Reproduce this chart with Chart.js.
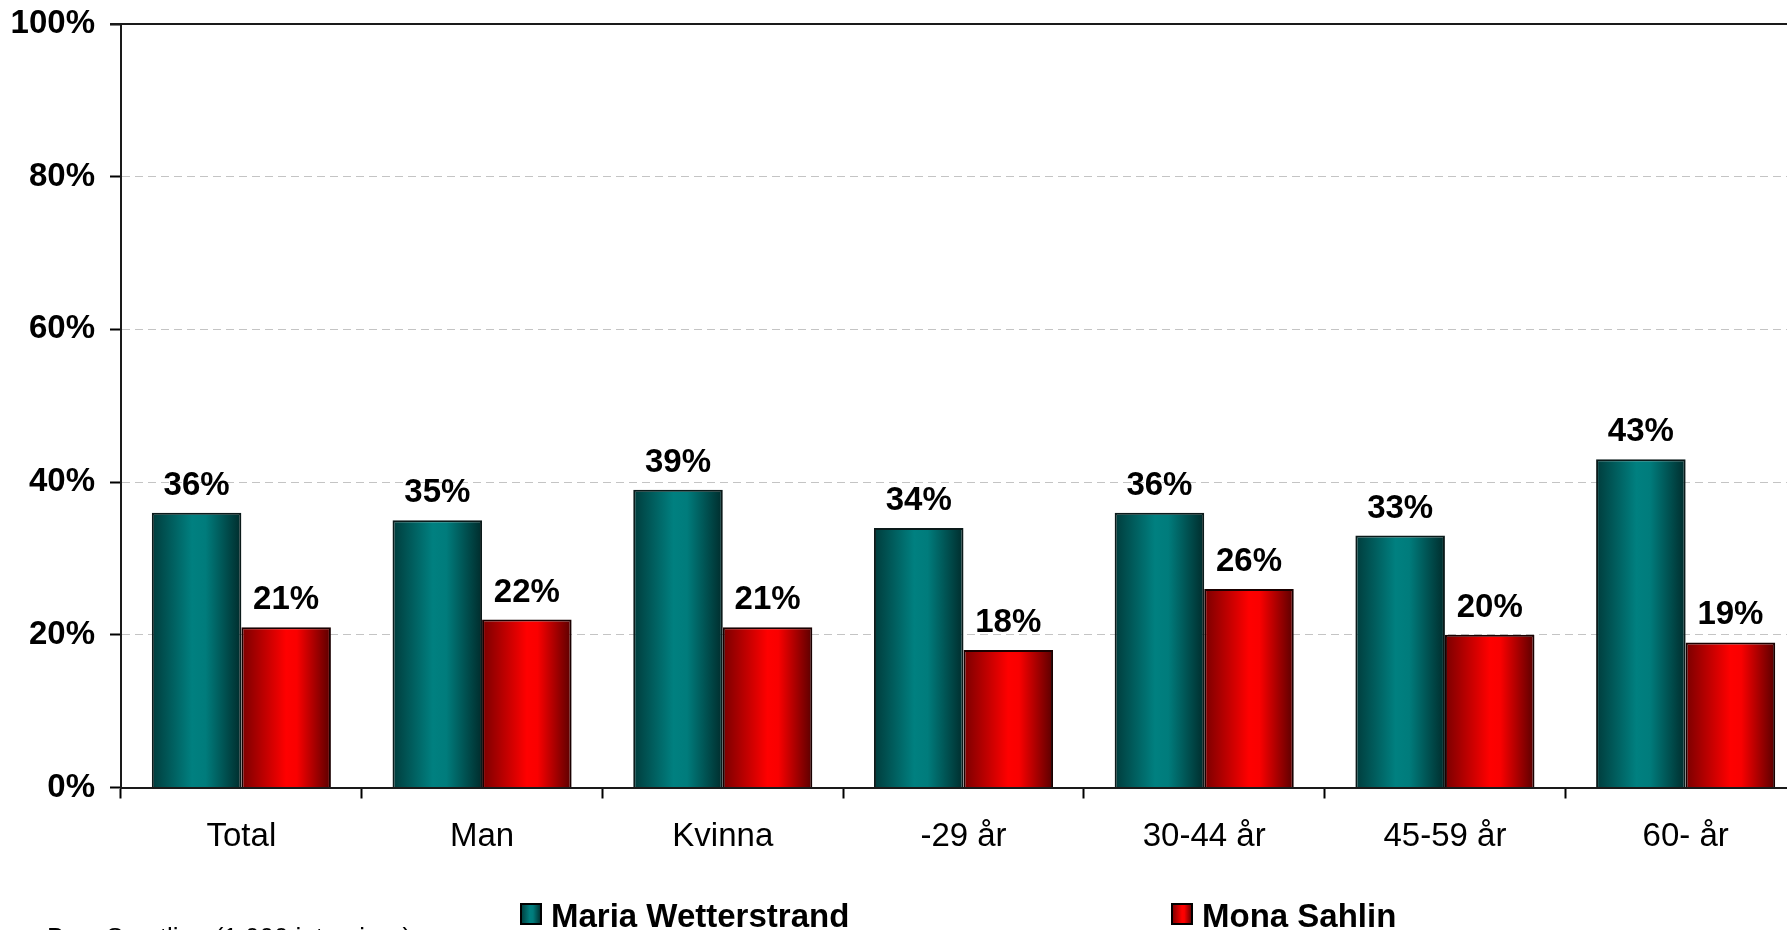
<!DOCTYPE html>
<html>
<head>
<meta charset="utf-8">
<script src="https://cdn.jsdelivr.net/npm/chart.js@4.4.1/dist/chart.umd.min.js"></script>
<style>
  html, body { margin: 0; padding: 0; background: #fff; overflow: hidden; }
  #wrap { width: 1787px; height: 930px; overflow: hidden; position: relative; }
  canvas { display: block; }
</style>
</head>
<body>
<div id="wrap"><canvas id="c" width="1810" height="930" style="width:1810px;height:930px"></canvas></div>
<script>
const categories = ["Total", "Man", "Kvinna", "-29 år", "30-44 år", "45-59 år", "60- år"];
const seriesNames = ["Maria Wetterstrand", "Mona Sahlin"];
const mariaValues = [36, 35, 39, 34, 36, 33, 43];
const monaValues = [21, 22, 21, 18, 26, 20, 19];
const yTicks = [0, 20, 40, 60, 80, 100];
const footnote = "Bas: Samtliga (1 000 intervjuer)";

const CAT_PCT = 0.744;
const FONT = "'Liberation Sans', Arial, sans-serif";
const gradStops = [
  [[0, "#003c3c"], [0.45, "#008080"], [0.6, "#007c7c"], [1, "#002c2c"]],
  [[0, "#7a0000"], [0.5, "#ff0000"], [0.62, "#fa0000"], [1, "#5a0000"]]
];

function makeGrad(ctx2d, left, width, stops) {
  const g = ctx2d.createLinearGradient(left, 0, left + width, 0);
  stops.forEach(s => g.addColorStop(s[0], s[1]));
  return g;
}

function barFill(context) {
  const chart = context.chart;
  const ds = context.datasetIndex;
  const area = chart.chartArea;
  const xs = chart.scales.x;
  if (!area || !xs || context.dataIndex === undefined) return gradStops[ds][1][1];
  const cx = xs.getPixelForValue(context.dataIndex);
  const catW = area.width / categories.length;
  const bw = catW * CAT_PCT / 2;
  const left = ds === 0 ? cx - bw : cx;
  return makeGrad(chart.ctx, left, bw, gradStops[ds]);
}

const valueLabels = {
  id: "valueLabels",
  afterDatasetsDraw(chart) {
    const ctx = chart.ctx;
    ctx.save();
    ctx.font = "bold 33px " + FONT;
    ctx.fillStyle = "#000";
    ctx.textAlign = "center";
    ctx.textBaseline = "alphabetic";
    chart.data.datasets.forEach((d, i) => {
      chart.getDatasetMeta(i).data.forEach((bar, j) => {
        ctx.fillText(d.data[j] + "%", bar.x, bar.y - 18);
      });
    });
    ctx.restore();
  }
};

const frame = {
  id: "frame",
  afterDraw(chart) {
    const ctx = chart.ctx;
    const y = chart.scales.y;
    const area = chart.chartArea;
    ctx.save();
    ctx.strokeStyle = "#1a1a1a";
    ctx.lineWidth = 2;
    ctx.beginPath();
    const top = y.getPixelForValue(100);
    ctx.moveTo(area.left - 11, top);
    ctx.lineTo(area.right, top);
    ctx.stroke();

    const items = [{ box: 521, text: 551 }, { box: 1172, text: 1202 }];
    chart.data.datasets.forEach((d, i) => {
      const it = items[i];
      ctx.fillStyle = makeGrad(ctx, it.box, 20, gradStops[i]);
      ctx.fillRect(it.box, 904, 20, 20);
      ctx.strokeStyle = "#000";
      ctx.lineWidth = 2;
      ctx.strokeRect(it.box, 904, 20, 20);
      ctx.fillStyle = "#000";
      ctx.font = "bold 33px " + FONT;
      ctx.textAlign = "left";
      ctx.textBaseline = "alphabetic";
      ctx.fillText(d.label, it.text, 927);
    });

    ctx.font = "26px " + FONT;
    ctx.fillStyle = "#000";
    ctx.textAlign = "left";
    ctx.fillText(footnote, 47, 946);
    ctx.restore();
  }
};

new Chart(document.getElementById("c"), {
  type: "bar",
  data: {
    labels: categories,
    datasets: [
      { label: seriesNames[0], data: mariaValues, backgroundColor: barFill, borderColor: "#0a1a1a", borderWidth: 2, borderSkipped: "bottom" },
      { label: seriesNames[1], data: monaValues, backgroundColor: barFill, borderColor: "#1a0000", borderWidth: 2, borderSkipped: "bottom" }
    ]
  },
  options: {
    responsive: false,
    animation: false,
    events: [],
    layout: { padding: { left: 0, top: 24, right: 4, bottom: 0 } },
    datasets: { bar: { categoryPercentage: CAT_PCT, barPercentage: 1 } },
    plugins: { legend: { display: false }, tooltip: { enabled: false }, title: { display: false } },
    scales: {
      x: {
        offset: true,
        grid: { offset: true, drawOnChartArea: false, drawTicks: true, tickLength: 11, tickColor: "#000", tickWidth: 2 },
        border: { display: true, color: "#1a1a1a", width: 2 },
        ticks: { color: "#000", font: { family: FONT, size: 33 }, padding: 19, maxRotation: 0, autoSkip: false },
        afterFit(scale) { scale.height = 142.5; scale.paddingLeft = 0; scale.paddingRight = 0; }
      },
      y: {
        min: 0, max: 100,
        afterBuildTicks(scale) { scale.ticks = yTicks.map(v => ({ value: v })); },
        grid: {
          color: (c) => (c.tick && (c.tick.value === 0 || c.tick.value === 100)) ? "rgba(0,0,0,0)" : "#c4c4c4",
          lineWidth: 1,
          tickLength: 11, tickColor: "#000", tickWidth: 2, tickBorderDash: []
        },
        border: { display: true, color: "#1a1a1a", width: 2, dash: [8, 5] },
        ticks: {
          color: "#000",
          font: { family: FONT, size: 33, weight: "bold" },
          padding: 15,
          callback: (v) => v + "%"
        },
        afterFit(scale) { scale.width = 121; scale.paddingTop = 0; scale.paddingBottom = 0; }
      }
    }
  },
  plugins: [valueLabels, frame]
});
</script>
</body>
</html>
